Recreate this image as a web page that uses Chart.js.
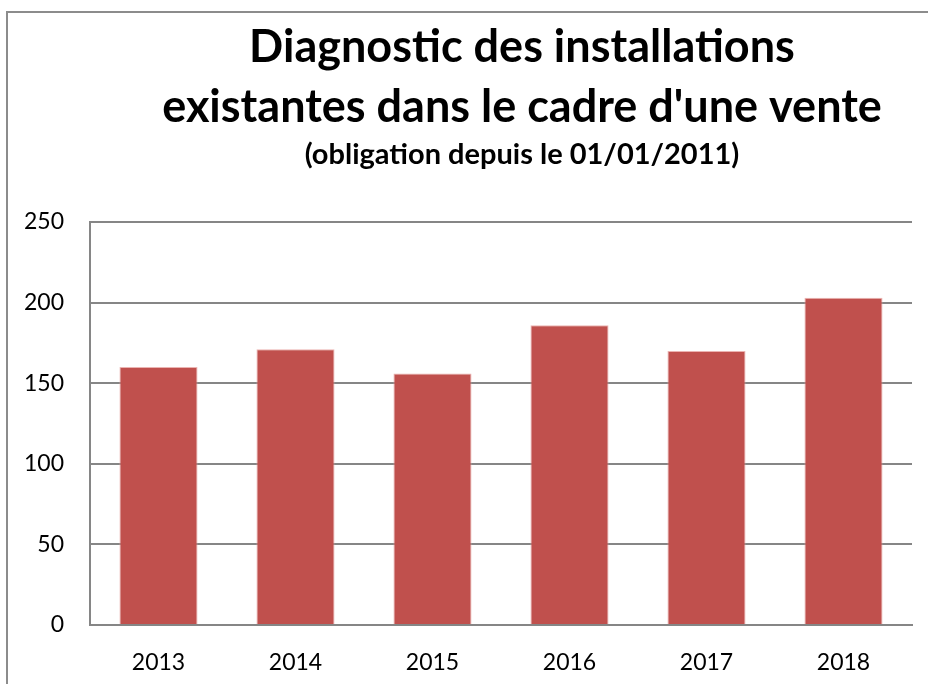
<!DOCTYPE html>
<html>
<head>
<meta charset="utf-8">
<script src="https://cdn.jsdelivr.net/npm/chart.js@4.4.0/dist/chart.umd.min.js"></script>
<style>
  html, body { margin: 0; padding: 0; background: #fff; overflow: hidden; }
  .frame { position: absolute; left: 6px; top: 11px; width: 2000px; height: 2000px; border: 2px solid #8c8c8c; }
  .wrap { position: absolute; left: 0; top: 0; width: 1038px; height: 684px; }
</style>
</head>
<body>
<div class="frame"></div>
<div class="wrap"><canvas id="chart" width="1038" height="684"></canvas></div>
<script>
const years = ["2013", "2014", "2015", "2016", "2017", "2018"];
const diagnostics = [160, 171, 156, 186, 170, 203];
const titleLines = ["Diagnostic des installations", "existantes dans le cadre d'une vente"];
const subtitleText = "(obligation depuis le 01/01/2011)";

const ctx = document.getElementById("chart").getContext("2d");
const chart = new Chart(ctx, {
  type: "bar",
  data: {
    labels: years,
    datasets: [
      {
        label: "Diagnostics",
        data: diagnostics,
        backgroundColor: "#c0504d",
        borderColor: "rgba(230, 160, 158, 0.8)",
        borderWidth: 1,
        categoryPercentage: 1,
        barPercentage: 0.57
      }
    ]
  },
  options: {
    responsive: false,
    animation: false,
    devicePixelRatio: 1,
    layout: {
      padding: { left: 6, right: 0, top: 0, bottom: 8 }
    },
    scales: {
      x: {
        grid: { display: false, drawTicks: false },
        border: { color: "#868686", width: 2 },
        ticks: {
          color: "#000",
          padding: 24,
          font: { family: "Lato", size: 23 }
        },
        afterFit: (s) => { s.height = 51; }
      },
      y: {
        min: 0,
        max: 250,
        ticks: {
          stepSize: 50,
          color: "#000",
          padding: 26,
          font: { family: "Lato", size: 23 }
        },
        grid: { color: "#868686", lineWidth: 2, drawTicks: false },
        border: { color: "#868686", width: 2 },
        afterFit: (s) => { s.width = 84; }
      },
      // empty space on the right so the title centres like the original
      spacer: {
        position: "right",
        min: 0,
        max: 1,
        ticks: { display: false },
        grid: { display: false, drawTicks: false },
        border: { display: false },
        afterFit: (s) => { s.width = 126; }
      }
    },
    plugins: {
      legend: { display: false },
      tooltip: { enabled: false },
      title: {
        display: true,
        text: titleLines,
        color: "#000",
        font: { family: "Lato", size: 45, weight: "bold", lineHeight: 1.33 },
        padding: { top: 18, bottom: 0 }
      },
      subtitle: {
        display: true,
        text: subtitleText,
        color: "#000",
        font: { family: "Lato", size: 29, weight: "bold", lineHeight: 1.2 },
        padding: { top: 0, bottom: 49.5 }
      }
    }
  }
});
</script>
</body>
</html>
